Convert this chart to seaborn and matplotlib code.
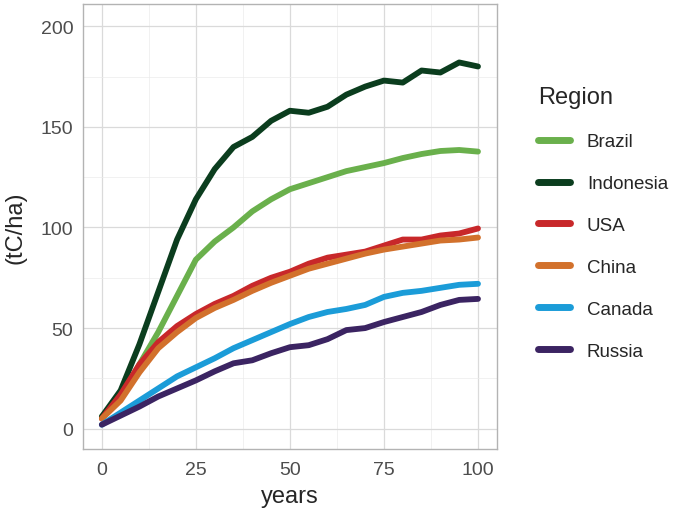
import numpy as np
import pandas as pd
import seaborn as sns
import matplotlib.pyplot as plt

# carbon stock (tC/ha) every 5 years
years = list(range(0, 101, 5))
brazil = [6, 15, 32, 48, 66, 84, 93, 100, 108, 114, 119, 122, 125, 128, 130, 132, 134.5, 136.5, 138, 138.5, 137.7]
indonesia = [6, 19, 42, 68, 94, 114, 129, 140, 145, 153, 158, 157, 160, 166, 170, 173, 172, 178, 177, 182, 180]
usa = [5, 17, 32, 43, 51, 57, 62, 66, 71, 75, 78, 82, 85, 86.5, 88, 91, 94, 94, 96, 97, 99.5]
china = [5, 14, 28, 40, 48, 55, 60, 64, 68.5, 72.5, 76, 79.5, 82, 84.5, 87, 89, 90.5, 92, 93.5, 94, 95]
canada = [2, 8, 14, 20, 26, 30.5, 35, 40, 44, 48, 52, 55.5, 58, 59.5, 61.5, 65.5, 67.5, 68.5, 70, 71.5, 72]
russia = [2, 6.5, 11, 16, 20, 24, 28.5, 32.5, 34, 37.5, 40.5, 41.5, 44.5, 49, 50, 53, 55.5, 58, 61.5, 64, 64.5]

regions = ["Brazil", "Indonesia", "USA", "China", "Canada", "Russia"]
colors = ["#6ab04c", "#0b3d1e", "#c8282a", "#d2712c", "#1b9cd8", "#3b2462"]


def build_frame():
    series = [brazil, indonesia, usa, china, canada, russia]
    rows = []
    for name, vals in zip(regions, series):
        for yr, v in zip(years, vals):
            rows.append({"years": yr, "value": v, "Region": name})
    return pd.DataFrame(rows)


def main():
    df = build_frame()

    sns.set_theme(style="whitegrid")
    plt.rcParams["font.family"] = ["Liberation Sans", "DejaVu Sans"]

    fig = plt.figure(figsize=(6.75, 5.1), dpi=100)
    ax = fig.add_axes([0.123, 0.118, 0.613, 0.872])

    sns.lineplot(data=df, x="years", y="value", hue="Region", hue_order=regions,
                 palette=dict(zip(regions, colors)), linewidth=4.2, ax=ax)

    ax.set_xlim(-5, 105)
    ax.set_ylim(-10, 211)
    ax.set_xticks([0, 25, 50, 75, 100])
    ax.set_yticks([0, 50, 100, 150, 200])
    ax.set_xticks([12.5, 37.5, 62.5, 87.5], minor=True)
    ax.set_yticks([25, 75, 125, 175], minor=True)
    ax.grid(which="major", color="#dadada", linewidth=0.9)
    ax.grid(which="minor", color="#ebebeb", linewidth=0.5)
    ax.set_axisbelow(True)
    for s in ax.spines.values():
        s.set_color("#b3b3b3")
        s.set_linewidth(1.0)

    ax.tick_params(axis="both", which="major", labelsize=14, labelcolor="#4d4d4d",
                   length=4, color="#b3b3b3", pad=3)
    ax.tick_params(axis="x", which="major", pad=5)
    ax.tick_params(which="minor", length=0)
    ax.set_xlabel("years", fontsize=17, labelpad=5)
    ax.set_ylabel("(tC/ha)", fontsize=17, labelpad=10)

    leg = ax.legend(title="Region", loc="upper left", bbox_to_anchor=(1.058, 0.853),
                    frameon=False, fontsize=13.5, title_fontsize=17,
                    handlelength=1.75, handletextpad=0.88, labelspacing=1.32)
    leg._legend_box.align = "left"
    for line in leg.get_lines():
        line.set_linewidth(5)

    fig.savefig("out.png", dpi=100)
    plt.close(fig)


if __name__ == "__main__":
    main()
